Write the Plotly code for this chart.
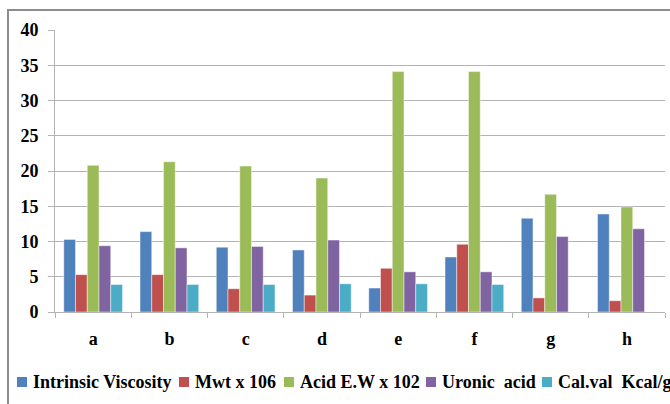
import plotly.graph_objects as go

# Samples on the category axis
samples = ["a", "b", "c", "d", "e", "f", "g", "h"]

# Measured properties per sample
intrinsic_viscosity = [10.3, 11.4, 9.2, 8.8, 3.4, 7.8, 13.3, 13.9]
mwt_x106 = [5.3, 5.3, 3.3, 2.4, 6.2, 9.6, 2.0, 1.6]
acid_ew_x102 = [20.8, 21.3, 20.7, 19.0, 34.1, 34.1, 16.7, 14.9]
uronic_acid = [9.4, 9.1, 9.3, 10.2, 5.7, 5.7, 10.7, 11.8]
cal_val = [3.9, 3.9, 3.9, 4.0, 4.0, 3.9, None, None]

series_names = ["Intrinsic Viscosity", "Mwt x 106", "Acid E.W x 102",
                "Uronic  acid", "Cal.val  Kcal/g"]
series_values = [intrinsic_viscosity, mwt_x106, acid_ew_x102, uronic_acid, cal_val]
colors = ["#4F81BD", "#C0504D", "#9BBB59", "#8064A2", "#4BACC6"]

y_ticks = [0, 5, 10, 15, 20, 25, 30, 35, 40]

W, H = 670, 404
M_L, M_R, M_T, M_B = 55, 5, 30, 92
font_family = "Liberation Serif"
font_size = 18
grid_color = "#B3B3B3"


def px_to_paper_x(px):
    return (px - M_L) / (W - M_L - M_R)


def px_to_paper_y(py):
    return (H - M_B - py) / (H - M_T - M_B)


fig = go.Figure()
for name, vals, col in zip(series_names, series_values, colors):
    fig.add_trace(go.Bar(
        x=samples, y=vals, name=name, showlegend=False,
        marker=dict(color=col, line=dict(color="rgba(255,255,255,0.45)", width=1)),
    ))

# Single-row key under the chart; it runs past the right edge of the frame
key_left = [17, 179, 284, 426, 542]
key_y = 382
shapes = []
annotations = []
for name, col, x0 in zip(series_names, colors, key_left):
    shapes.append(dict(
        type="rect", xref="paper", yref="paper",
        x0=px_to_paper_x(x0), x1=px_to_paper_x(x0 + 10),
        y0=px_to_paper_y(key_y + 5), y1=px_to_paper_y(key_y - 5),
        fillcolor=col, line=dict(width=0),
    ))
    annotations.append(dict(
        text=name, xref="paper", yref="paper",
        x=px_to_paper_x(x0 + 14), y=px_to_paper_y(key_y),
        xanchor="left", yanchor="middle", showarrow=False,
        font=dict(family=font_family, size=font_size, color="black", weight="bold"),
    ))

# Outer frame around the chart
shapes.append(dict(
    type="rect", xref="paper", yref="paper",
    x0=px_to_paper_x(8), x1=px_to_paper_x(W + 20),
    y0=px_to_paper_y(H + 20), y1=px_to_paper_y(10),
    line=dict(color="#8C8C8C", width=2), fillcolor="rgba(0,0,0,0)",
    layer="below",
))

tick_font = dict(family=font_family, size=font_size, color="black", weight="bold")

fig.update_layout(
    width=W, height=H,
    margin=dict(l=M_L, r=M_R, t=M_T, b=M_B),
    paper_bgcolor="white", plot_bgcolor="white",
    barmode="group", bargap=0.23, bargroupgap=0,
    font=dict(family=font_family, size=font_size, color="black"),
    showlegend=False,
    xaxis=dict(
        type="category", showgrid=False, showline=True, linecolor=grid_color,
        linewidth=1, ticks="outside", tickson="boundaries", ticklen=5,
        tickcolor=grid_color, tickfont=tick_font, ticklabelstandoff=10,
        automargin=False,
    ),
    yaxis=dict(
        range=[0, 40], tickvals=y_ticks, showgrid=True, gridcolor=grid_color,
        gridwidth=1, showline=True, linecolor=grid_color, linewidth=1,
        ticks="outside", ticklen=6, tickcolor=grid_color,
        tickfont=tick_font, zeroline=False, ticklabelstandoff=6,
        automargin=False,
    ),
    shapes=shapes,
    annotations=annotations,
)

fig.write_html("out.html")
